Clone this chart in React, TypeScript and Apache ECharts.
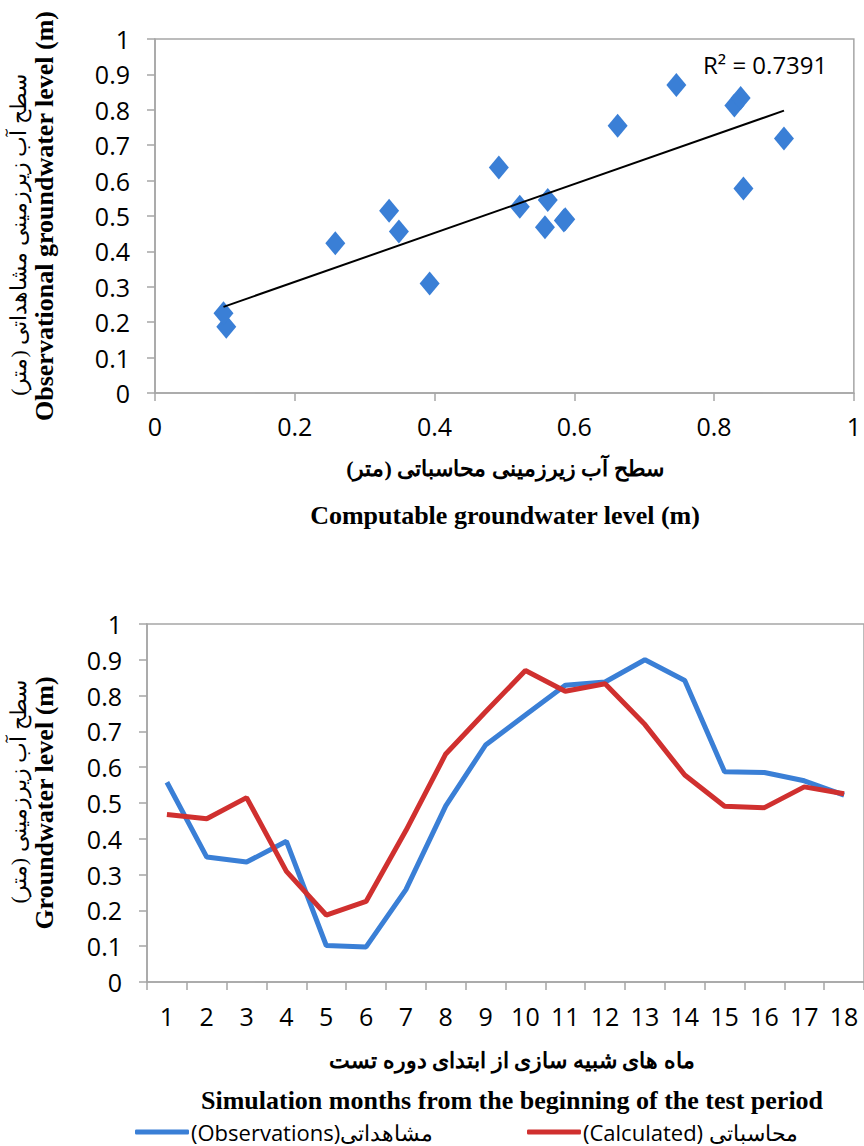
import React, { useEffect, useRef } from "react";
import * as echarts from "echarts";

const months = ["1", "2", "3", "4", "5", "6", "7", "8", "9", "10", "11", "12", "13", "14", "15", "16", "17", "18"];
const observed = [0.558, 0.349, 0.335, 0.393, 0.102, 0.098, 0.258, 0.492, 0.662, 0.746, 0.829, 0.838, 0.9, 0.842, 0.587, 0.585, 0.562, 0.522];
const calculated = [0.468, 0.456, 0.515, 0.309, 0.187, 0.225, 0.423, 0.637, 0.755, 0.87, 0.812, 0.833, 0.719, 0.578, 0.491, 0.487, 0.545, 0.526];
const rSquaredLabel = "R\u00B2 = 0.7391";
const obsName = "(Observations)مشاهداتی";
const calcName = "(Calculated) محاسباتی";

const tickFont = "'Open Sans', 'Liberation Sans', sans-serif";
const titleFont = "'Liberation Serif', 'DejaVu Serif', serif";
const gray = "#a6a6a6";
const blue = "#3a7fd6";
const red = "#d0302f";

function regression(xs: number[], ys: number[]) {
  const n = xs.length;
  const mx = xs.reduce((a, b) => a + b, 0) / n;
  const my = ys.reduce((a, b) => a + b, 0) / n;
  let sxy = 0;
  let sxx = 0;
  for (let i = 0; i < n; i++) {
    sxy += (xs[i] - mx) * (ys[i] - my);
    sxx += (xs[i] - mx) * (xs[i] - mx);
  }
  const slope = sxy / sxx;
  return { slope, intercept: my - slope * mx };
}

export default function App() {
  const ref = useRef<HTMLDivElement>(null);
  useEffect(() => {
    if (!ref.current) return;
    const chart = echarts.init(ref.current, null, { renderer: "svg" });
    const { slope, intercept } = regression(observed, calculated);
    const xmin = Math.min(...observed);
    const xmax = Math.max(...observed);
    const scatterData = observed.map((o, i) => [o, calculated[i]]);

    const valueAxisCommon = {
      axisLine: { show: true, lineStyle: { color: gray, width: 1.5 } },
      axisTick: { show: true, length: 8, lineStyle: { color: gray, width: 1.5 } },
      splitLine: { show: false },
    };

    const titleText = (
      text: string,
      x: number,
      y: number,
      size: number,
      rotate: boolean,
      bold: boolean = true
    ) => ({
      type: "text",
      x,
      y,
      rotation: rotate ? Math.PI / 2 : 0,
      style: {
        text,
        fontSize: size,
        fontWeight: bold ? "bold" : "normal",
        fontFamily: titleFont,
        fill: "#000",
        align: "center",
        verticalAlign: "middle",
      },
    });

    const tickLabel = { fontSize: 25, fontFamily: tickFont, color: "#000" };

    chart.setOption({
      animation: false,
      grid: [
        { left: 155, top: 39, width: 700, height: 354, show: true, borderColor: gray, borderWidth: 1.5 },
        { left: 147, top: 624, width: 724, height: 358, show: true, borderColor: gray, borderWidth: 1.5 },
      ],
      xAxis: [
        {
          gridIndex: 0,
          type: "value",
          min: 0,
          max: 1,
          interval: 0.2,
          ...valueAxisCommon,
          axisLabel: { ...tickLabel, margin: 20 },
        },
        {
          gridIndex: 1,
          type: "category",
          data: months,
          boundaryGap: true,
          axisLine: { show: true, lineStyle: { color: gray, width: 1.5 } },
          axisTick: { show: true, length: 8, interval: 0, lineStyle: { color: gray, width: 1.5 } },
          axisLabel: { ...tickLabel, margin: 21, interval: 0 },
          splitLine: { show: false },
        },
      ],
      yAxis: [
        {
          gridIndex: 0,
          type: "value",
          min: 0,
          max: 1,
          interval: 0.1,
          ...valueAxisCommon,
          axisLabel: { ...tickLabel, margin: 25 },
        },
        {
          gridIndex: 1,
          type: "value",
          min: 0,
          max: 1,
          interval: 0.1,
          ...valueAxisCommon,
          axisLabel: { ...tickLabel, margin: 25 },
        },
      ],
      legend: [
        {
          data: [obsName],
          left: 135,
          top: 1120,
          icon: "roundRect",
          itemWidth: 54,
          itemHeight: 5,
          itemGap: 0,
          padding: 0,
          textStyle: { fontSize: 22, lineHeight: 24, fontFamily: tickFont, color: "#000", padding: [0, 0, 0, -3] },
        },
        {
          data: [calcName],
          left: 527,
          top: 1120,
          icon: "roundRect",
          itemWidth: 54,
          itemHeight: 5,
          itemGap: 0,
          padding: 0,
          textStyle: { fontSize: 22, lineHeight: 24, fontFamily: tickFont, color: "#000", padding: [0, 0, 0, -3] },
        },
      ],
      series: [
        {
          type: "scatter",
          name: "scatter",
          xAxisIndex: 0,
          yAxisIndex: 0,
          data: scatterData,
          symbol: "diamond",
          symbolSize: [20, 24],
          itemStyle: { color: blue, opacity: 1 },
          z: 3,
        },
        {
          type: "line",
          name: "trend",
          xAxisIndex: 0,
          yAxisIndex: 0,
          data: [
            [xmin, intercept + slope * xmin],
            [xmax, intercept + slope * xmax],
          ],
          symbol: "none",
          lineStyle: { color: "#000", width: 2 },
          z: 4,
        },
        {
          type: "line",
          name: obsName,
          xAxisIndex: 1,
          yAxisIndex: 1,
          data: observed,
          symbol: "none",
          color: blue,
          lineStyle: { color: blue, width: 5 },
        },
        {
          type: "line",
          name: calcName,
          xAxisIndex: 1,
          yAxisIndex: 1,
          data: calculated,
          symbol: "none",
          color: red,
          lineStyle: { color: red, width: 5 },
        },
      ],
      graphic: [
        {
          type: "text",
          x: 703,
          y: 64,
          style: {
            text: rSquaredLabel,
            fontSize: 24,
            fontFamily: tickFont,
            fill: "#000",
            align: "left",
            verticalAlign: "middle",
          },
        },
        titleText("Observational groundwater level (m)", 44, 216, 26, true),
        titleText("سطح آب زیرزمینی مشاهداتی (متر)", 18, 235, 22, true, false),
        titleText("سطح آب زیرزمینی محاسباتی (متر)", 505, 468, 22, false),
        titleText("Computable groundwater level (m)", 505, 515, 26, false),
        titleText("Groundwater level (m)", 44, 803, 26, true),
        titleText("سطح آب زیرزمینی (متر)", 18, 792, 22, true, false),
        titleText("ماه های شبیه سازی از ابتدای دوره تست", 512, 1060, 22, false),
        titleText("Simulation months from the beginning of the test period", 512, 1100, 26, false),
      ],
    });
    return () => chart.dispose();
  }, []);
  return (
    <div
      ref={ref}
      style={{ position: "absolute", left: 0, top: 0, width: 864, height: 1146, background: "#fff" }}
    />
  );
}
